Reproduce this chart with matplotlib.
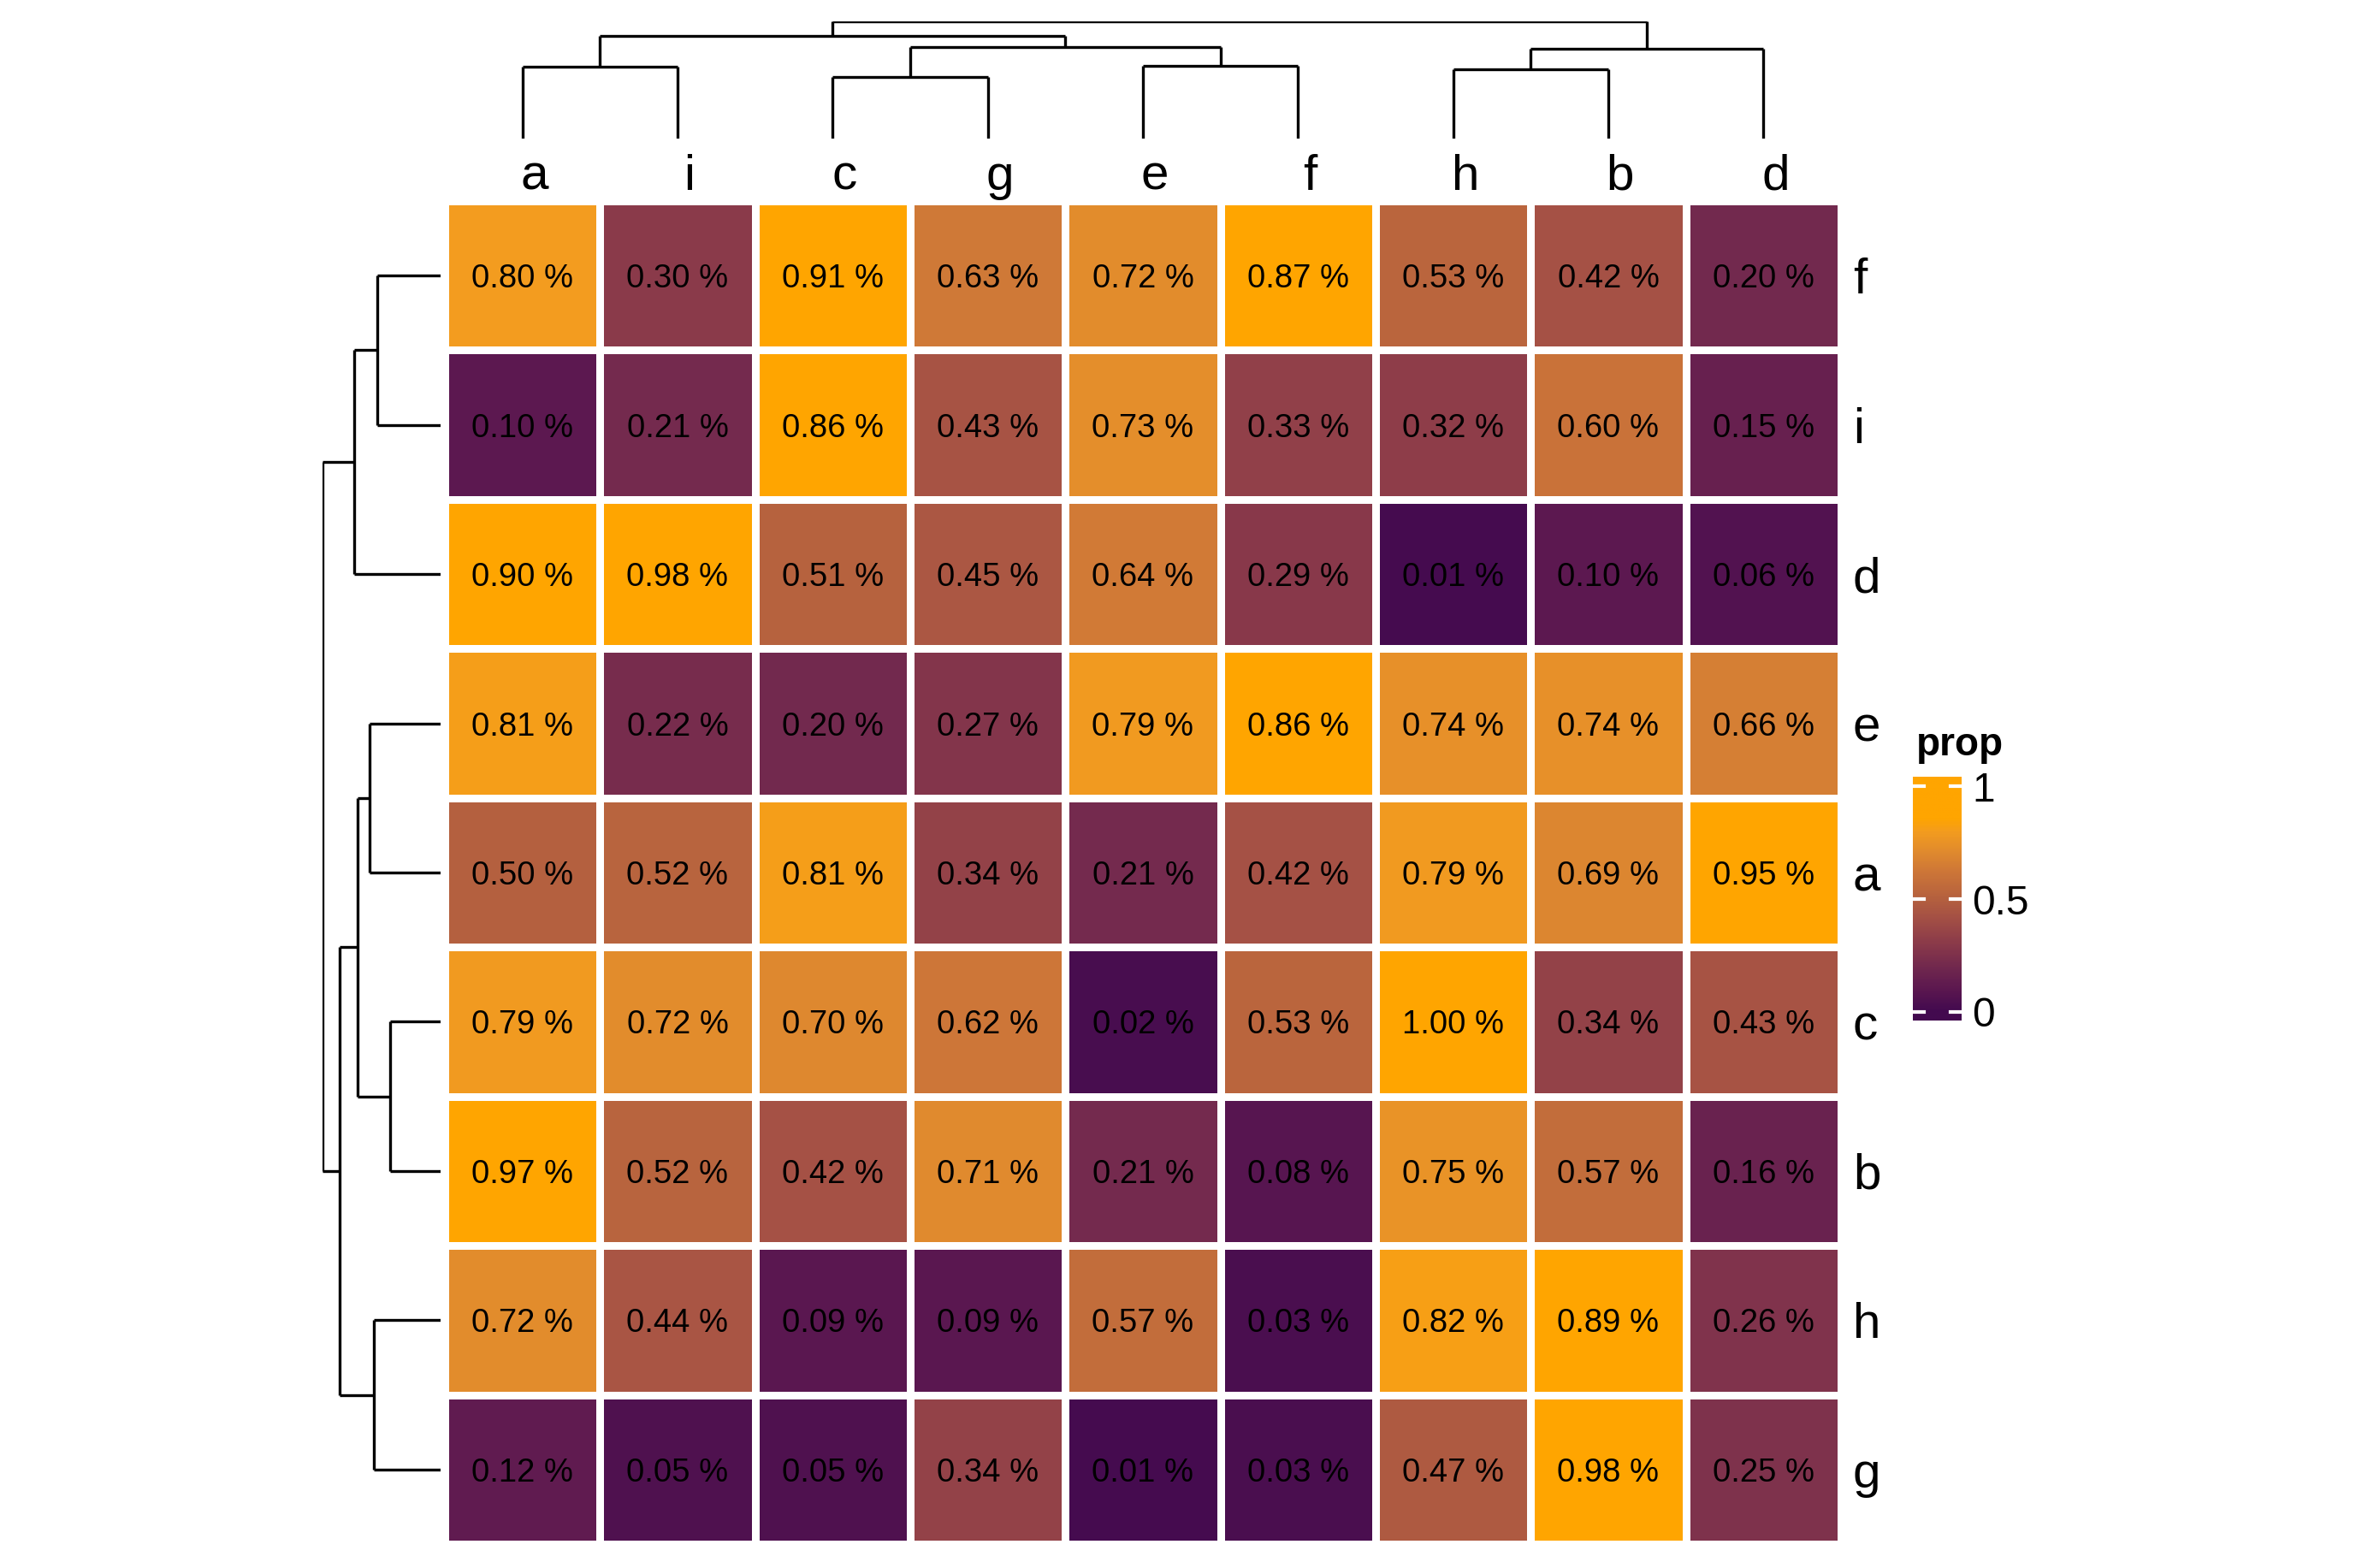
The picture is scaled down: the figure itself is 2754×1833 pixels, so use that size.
import numpy as np
import matplotlib
matplotlib.use("Agg")
import matplotlib.pyplot as plt
from matplotlib.colors import LinearSegmentedColormap
from matplotlib.transforms import blended_transform_factory

plt.rcParams['font.family'] = ['Liberation Sans', 'DejaVu Sans']

# dati
col_labels = ["a", "i", "c", "g", "e", "f", "h", "b", "d"]
row_labels = ["f", "i", "d", "e", "a", "c", "b", "h", "g"]
prop = np.array([
    [0.80, 0.30, 0.91, 0.63, 0.72, 0.87, 0.53, 0.42, 0.20],
    [0.10, 0.21, 0.86, 0.43, 0.73, 0.33, 0.32, 0.60, 0.15],
    [0.90, 0.98, 0.51, 0.45, 0.64, 0.29, 0.01, 0.10, 0.06],
    [0.81, 0.22, 0.20, 0.27, 0.79, 0.86, 0.74, 0.74, 0.66],
    [0.50, 0.52, 0.81, 0.34, 0.21, 0.42, 0.79, 0.69, 0.95],
    [0.79, 0.72, 0.70, 0.62, 0.02, 0.53, 1.00, 0.34, 0.43],
    [0.97, 0.52, 0.42, 0.71, 0.21, 0.08, 0.75, 0.57, 0.16],
    [0.72, 0.44, 0.09, 0.09, 0.57, 0.03, 0.82, 0.89, 0.26],
    [0.12, 0.05, 0.05, 0.34, 0.01, 0.03, 0.47, 0.98, 0.25],
])

# merge: (sinistra, destra, altezza); un intero = indice di un merge precedente
col_merges = [("a", "i", 84), ("c", "g", 72), ("e", "f", 85), (1, 2, 107),
              (0, 3, 120), ("h", "b", 81), (5, "d", 105), (4, 6, 137)]
row_merges = [("f", "i", 74), (0, "d", 101), ("e", "a", 83), ("c", "b", 59),
              (2, 3, 97), ("h", "g", 78), (4, 5, 118), (1, 6, 138)]

cbar_ticks = [0, 0.5, 1]
cbar_ticklabels = ["0", "0.5", "1"]

# colori
cmap = LinearSegmentedColormap.from_list("prop", [
    (0.00, "#430a4f"), (0.10, "#5c1850"), (0.20, "#72294e"), (0.30, "#8a3a4a"),
    (0.42, "#a55145"), (0.50, "#b4603f"), (0.62, "#cd7638"), (0.71, "#e08a2e"),
    (0.80, "#f39c1f"), (0.86, "#ffa500"), (1.00, "#ffa500")])

W, H = 2754, 1833
fig = plt.figure(figsize=(W / 300, H / 300), dpi=300)

def box(x0, y0, x1, y1):
    return [x0 / W, 1 - y1 / H, (x1 - x0) / W, (y1 - y0) / H]

hx0, hy0, hx1, hy1 = 520, 235, 2152, 1805

# heatmap
ax = fig.add_axes(box(hx0, hy0, hx1, hy1))
ax.pcolormesh(np.arange(10), np.arange(10), prop, cmap=cmap, vmin=0, vmax=1,
              edgecolors="white", linewidth=1.7)
ax.set_xlim(0, 9)
ax.set_ylim(9, 0)
ax.axis("off")
for i in range(9):
    for j in range(9):
        ax.text(j + 0.5, i + 0.5, f"{prop[i, j]:.2f} %", ha="center",
                va="center_baseline", fontsize=9.2, color="black")

# etichette colonne (leggermente spostate a destra come nell'originale)
tx = blended_transform_factory(ax.transData, ax.transAxes)
for j, lab in enumerate(col_labels):
    ax.text(j + 0.5 + 14 / 181, (hy1 - 222) / (hy1 - hy0), lab, transform=tx,
            ha="center", va="baseline", fontsize=14)
ty = blended_transform_factory(ax.transAxes, ax.transData)
for i, lab in enumerate(row_labels):
    ax.text((2166 - hx0) / (hx1 - hx0), i + 0.5, lab, transform=ty, ha="left",
            va="center_baseline", fontsize=14)


def dendro(merges, order):
    pos = {lab: k + 0.5 for k, lab in enumerate(order)}
    nodes = []
    segs = []
    for l, r, h in merges:
        pl, hl = (nodes[l] if isinstance(l, int) else (pos[l], 0))
        pr, hr = (nodes[r] if isinstance(r, int) else (pos[r], 0))
        segs.append(([pl, pl], [hl, h]))
        segs.append(([pr, pr], [hr, h]))
        segs.append(([pl, pr], [h, h]))
        nodes.append(((pl + pr) / 2, h))
    return segs


# dendrogramma in alto
axt = fig.add_axes(box(hx0, 25, hx1, 162))
for xs, hs in dendro(col_merges, col_labels):
    axt.plot(xs, hs, color="black", lw=0.8, solid_capstyle="butt")
axt.set_xlim(0, 9)
axt.set_ylim(0, 137)
axt.axis("off")

# dendrogramma a sinistra
axl = fig.add_axes(box(377, hy0, 515, hy1))
for ys, hs in dendro(row_merges, row_labels):
    axl.plot(hs, ys, color="black", lw=0.8, solid_capstyle="butt")
axl.set_ylim(9, 0)
axl.set_xlim(138, 0)
axl.axis("off")

# legenda colori
lo, hi = -0.038, 1.042
cax = fig.add_axes(box(2236, 908, 2293, 1193))
grad = np.linspace(lo, hi, 300).reshape(-1, 1)
cax.imshow(grad, cmap=cmap, vmin=0, vmax=1, aspect="auto", origin="lower",
           extent=[0, 1, lo, hi])
cax.set_xlim(0, 1)
cax.set_ylim(lo, hi)
cax.axis("off")
tc = blended_transform_factory(cax.transAxes, cax.transData)
for t, lab in zip(cbar_ticks, cbar_ticklabels):
    cax.plot([0, 0.22], [t, t], color="white", lw=1.0)
    cax.plot([0.78, 1], [t, t], color="white", lw=1.0)
    cax.text(1 + 12 / 57, t, lab, transform=tc, ha="left", va="center_baseline",
             fontsize=11.5)
fig.text(2240 / W, 1 - 883 / H, "prop", fontsize=11, fontweight="bold",
         ha="left", va="baseline")

fig.savefig("out.png", dpi=300)
